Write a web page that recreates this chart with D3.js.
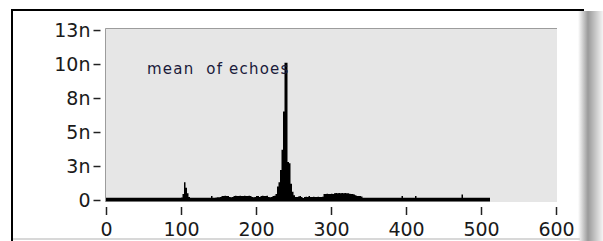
<!DOCTYPE html>
<html>
<head>
<meta charset="utf-8">
<style>
  body { margin: 0; background: white; font-family: "DejaVu Sans", Verdana, sans-serif; }
  svg { display: block; }
</style>
<script src="https://cdn.jsdelivr.net/npm/d3@7"></script>
</head>
<body>
<svg id="chart"></svg>
<script>

// sample index (x), bins of width 2 starting at 0
const binWidth = 2
// mean of echoes, in units of 1e-9, one value per bin (x = 0, 2, 4 ... 510)
const echoMean = [
  0.16, 0.17, 0.16, 0.16, 0.17, 0.16, 0.16, 0.17, 0.16, 0.16, 0.17, 0.16, 0.16, 0.17, 0.16, 0.16,
  0.17, 0.16, 0.16, 0.17, 0.16, 0.16, 0.17, 0.16, 0.16, 0.17, 0.16, 0.16, 0.17, 0.16, 0.16, 0.17,
  0.16, 0.16, 0.17, 0.16, 0.16, 0.17, 0.16, 0.16, 0.17, 0.16, 0.16, 0.17, 0.16, 0.16, 0.17, 0.16,
  0.16, 0.17, 0.18, 0.45, 1.30, 0.90, 0.50, 0.22, 0.17, 0.16, 0.17, 0.16, 0.16, 0.17, 0.16, 0.16,
  0.17, 0.16, 0.16, 0.17, 0.16, 0.16, 0.30, 0.17, 0.16, 0.18, 0.20, 0.20, 0.22, 0.30, 0.30, 0.32,
  0.30, 0.30, 0.22, 0.20, 0.22, 0.30, 0.32, 0.30, 0.30, 0.32, 0.30, 0.30, 0.32, 0.30, 0.30, 0.32,
  0.30, 0.22, 0.20, 0.22, 0.30, 0.30, 0.22, 0.30, 0.32, 0.30, 0.30, 0.32, 0.22, 0.20, 0.22, 0.30,
  0.32, 0.45, 1.00, 1.30, 2.20, 3.70, 6.50, 10.10, 10.10, 2.80, 2.70, 1.20, 0.60, 0.35, 0.22, 0.22,
  0.25, 0.30, 0.22, 0.15, 0.22, 0.24, 0.22, 0.30, 0.22, 0.22, 0.24, 0.22, 0.22, 0.24, 0.22, 0.22,
  0.24, 0.45, 0.45, 0.46, 0.45, 0.45, 0.46, 0.45, 0.50, 0.52, 0.50, 0.52, 0.50, 0.52, 0.50, 0.52,
  0.50, 0.50, 0.46, 0.45, 0.45, 0.40, 0.35, 0.30, 0.30, 0.30, 0.25, 0.17, 0.16, 0.16, 0.17, 0.16,
  0.16, 0.17, 0.16, 0.16, 0.17, 0.16, 0.16, 0.17, 0.16, 0.16, 0.17, 0.16, 0.16, 0.17, 0.16, 0.16,
  0.17, 0.16, 0.16, 0.17, 0.16, 0.30, 0.17, 0.16, 0.16, 0.17, 0.16, 0.16, 0.17, 0.16, 0.30, 0.16,
  0.17, 0.16, 0.16, 0.17, 0.16, 0.16, 0.17, 0.16, 0.16, 0.17, 0.16, 0.16, 0.17, 0.16, 0.16, 0.17,
  0.16, 0.16, 0.17, 0.16, 0.16, 0.17, 0.16, 0.16, 0.17, 0.16, 0.16, 0.17, 0.16, 0.40, 0.17, 0.16,
  0.16, 0.17, 0.16, 0.16, 0.17, 0.16, 0.16, 0.17, 0.16, 0.16, 0.17, 0.16, 0.16, 0.16, 0.16, 0.16
]

const xTicks = [0, 100, 200, 300, 400, 500, 600]
const yTicks = [0, 2.5, 5, 7.5, 10, 12.5]
const yTickLabels = ["0", "3n", "5n", "8n", "10n", "13n"]
const plotLabel = "mean  of echoes"

let width = 603
let height = 241

let svg = d3.select("#chart")
  .attr("width", width)
  .attr("height", height)

// outer window frame
let defs = svg.append("defs")
let grad = defs.append("linearGradient").attr("id", "edge")
grad.append("stop").attr("offset", "0%").attr("stop-color", "#ffffff")
grad.append("stop").attr("offset", "40%").attr("stop-color", "#9a9a9a")
grad.append("stop").attr("offset", "100%").attr("stop-color", "#f4f4f4")

svg.append("rect")
  .attr("x", 578).attr("y", 11)
  .attr("width", 25).attr("height", height - 11)
  .attr("fill", "url(#edge)")

svg.append("line")
  .attr("x1", 11).attr("x2", 584).attr("y1", 10).attr("y2", 10)
  .attr("stroke", "black").attr("stroke-width", 2)
svg.append("line")
  .attr("x1", 12).attr("x2", 12).attr("y1", 9).attr("y2", height)
  .attr("stroke", "black").attr("stroke-width", 2)
svg.append("line")
  .attr("x1", 13).attr("x2", 580).attr("y1", 239).attr("y2", 239)
  .attr("stroke", "#d8d8d8").attr("stroke-width", 2)

// scales
let x = d3.scaleLinear().domain([0, 600]).range([106, 556])
let y = d3.scaleLinear().domain([0, 12.65]).range([200, 28])

// plot background
svg.append("rect")
  .attr("x", 105).attr("y", 28)
  .attr("width", 557 - 105).attr("height", 202 - 28)
  .attr("fill", "#e6e6e6")
svg.append("path")
  .attr("d", "M105.5,202V28.5H557")
  .attr("fill", "none")
  .attr("stroke", "#9c9c9c")

// histogram as a step area
let pts = echoMean.map((v, i) => ({ x: i * binWidth, v: v }))
pts.push({ x: echoMean.length * binWidth, v: echoMean[echoMean.length - 1] })

let area = d3.area()
  .curve(d3.curveStepAfter)
  .x(d => x(d.x))
  .y0(y(0) + 1.5)
  .y1(d => y(d.v))

svg.append("path")
  .datum(pts)
  .attr("d", area)
  .attr("fill", "black")

// label inside plot
svg.append("text")
  .attr("x", 147).attr("y", 74)
  .attr("font-size", 15)
  .attr("letter-spacing", 1.2)
  .attr("fill", "#1a1a3a")
  .attr("xml:space", "preserve")
  .style("white-space", "pre")
  .text(plotLabel)

// axes
let yAxis = d3.axisLeft(y)
  .tickValues(yTicks)
  .tickFormat((d, i) => yTickLabels[i])
  .tickSize(7)
  .tickPadding(3)

let gy = svg.append("g")
  .attr("transform", "translate(100.5,0)")
  .call(yAxis)
gy.select(".domain").remove()
gy.selectAll("line").attr("stroke", "#222").attr("stroke-width", 1.5)
gy.selectAll("text")
  .attr("font-family", "DejaVu Sans, sans-serif")
  .attr("font-size", 19)
  .attr("fill", "#1a1a1a")

let xAxis = d3.axisBottom(x)
  .tickValues(xTicks)
  .tickFormat(d3.format("d"))
  .tickSize(8)
  .tickPadding(8)

let gx = svg.append("g")
  .attr("transform", "translate(0,207)")
  .call(xAxis)
gx.select(".domain").remove()
gx.selectAll("line").attr("stroke", "#222").attr("stroke-width", 1.5)
gx.selectAll("text")
  .attr("font-family", "DejaVu Sans, sans-serif")
  .attr("font-size", 19)
  .attr("fill", "#1a1a1a")

</script>
</body>
</html>
